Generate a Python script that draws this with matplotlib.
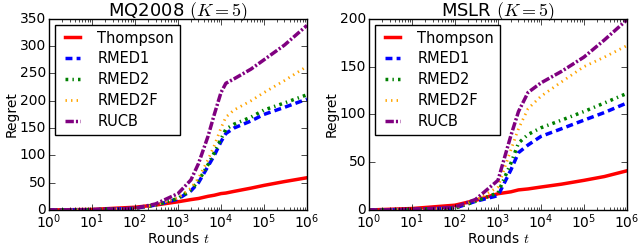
import matplotlib
matplotlib.use("Agg")
import matplotlib.pyplot as plt

# MQ2008 curves
mq_rounds = [1, 10, 100, 300, 1e3, 2e3, 3e3, 5e3, 7e3, 1e4, 1.3e4, 2e4, 5e4, 1e5, 3e5, 1e6]
mq_thompson = [0, 1, 5, 9, 15, 19, 21, 25, 27, 30, 31, 34, 40, 45, 52, 59]
mq_rmed1 = [0, 0.5, 3, 9, 20, 35, 50, 80, 100, 125, 140, 150, 163, 175, 188, 203]
mq_rmed2 = [0, 0.5, 3, 9, 21, 37, 53, 83, 105, 130, 148, 157, 170, 183, 196, 211]
mq_rmed2f = [0, 0.5, 3, 9, 22, 40, 58, 92, 118, 150, 170, 183, 200, 215, 237, 263]
mq_rucb = [0, 0.5, 3, 11, 30, 55, 85, 135, 175, 215, 232, 240, 258, 275, 302, 338]

# MSLR curves
ms_rounds = [1, 10, 100, 300, 1e3, 2e3, 3e3, 5e3, 1e4, 3e4, 1e5, 3e5, 1e6]
ms_thompson = [0, 1.5, 5, 10, 17, 19, 21, 22, 24, 27, 31, 35, 41]
ms_rmed1 = [0, 0.5, 2, 9, 15, 42, 60, 68, 77, 85, 94, 102, 112]
ms_rmed2 = [0, 0.5, 2, 9, 18, 49, 70, 79, 86, 94, 103, 112, 122]
ms_rmed2f = [0, 0.5, 2, 10, 24, 63, 85, 106, 119, 134, 150, 160, 172]
ms_rucb = [0, 0.5, 3, 11, 31, 78, 103, 123, 133, 145, 160, 178, 199]

labels = ["Thompson", "RMED1", "RMED2", "RMED2F", "RUCB"]
titles = [r"MQ2008 $(K=5)$", r"MSLR $(K=5)$"]
ylims = [350, 200]

plt.style.use("classic")
plt.rcParams["figure.facecolor"] = "white"
plt.rcParams["savefig.facecolor"] = "white"

styles = [
    dict(color="red", linestyle="-"),
    dict(color="blue", dashes=(5, 3)),
    dict(color="green", dashes=(2, 3, 1, 3)),
    dict(color="orange", linestyle=":"),
    dict(color="purple", dashes=(6, 1.5, 1.5, 1.5)),
]

fig = plt.figure(figsize=(6.4, 2.45), dpi=100)
positions = [[0.0766, 0.143, 0.403, 0.780], [0.5766, 0.143, 0.403, 0.780]]
datasets = [
    (mq_rounds, [mq_thompson, mq_rmed1, mq_rmed2, mq_rmed2f, mq_rucb]),
    (ms_rounds, [ms_thompson, ms_rmed1, ms_rmed2, ms_rmed2f, ms_rucb]),
]

for i, (rounds, series) in enumerate(datasets):
    ax = fig.add_axes(positions[i])
    for lab, vals, st in zip(labels, series, styles):
        lw = 2.0 if lab == "RMED2F" else 2.5
        ax.plot(rounds, vals, label=lab, linewidth=lw, **st)
    ax.set_xscale("log")
    ax.set_xlim(1, 1e6)
    ax.set_ylim(0, ylims[i])
    ax.set_title(titles[i], fontsize=13, pad=2)
    ax.set_xlabel(r"Rounds $t$", fontsize=10, labelpad=0)
    ax.set_ylabel("Regret", fontsize=10, labelpad=1)
    ax.tick_params(labelsize=10, pad=2)
    leg = ax.legend(loc="upper left", fontsize=10.5, handlelength=1.6,
                    borderaxespad=0.4, labelspacing=0.4, handletextpad=0.9,
                    borderpad=0.4, frameon=True, fancybox=False)
    leg.get_frame().set_edgecolor("black")

fig.savefig("out.png", dpi=100, facecolor="white")
